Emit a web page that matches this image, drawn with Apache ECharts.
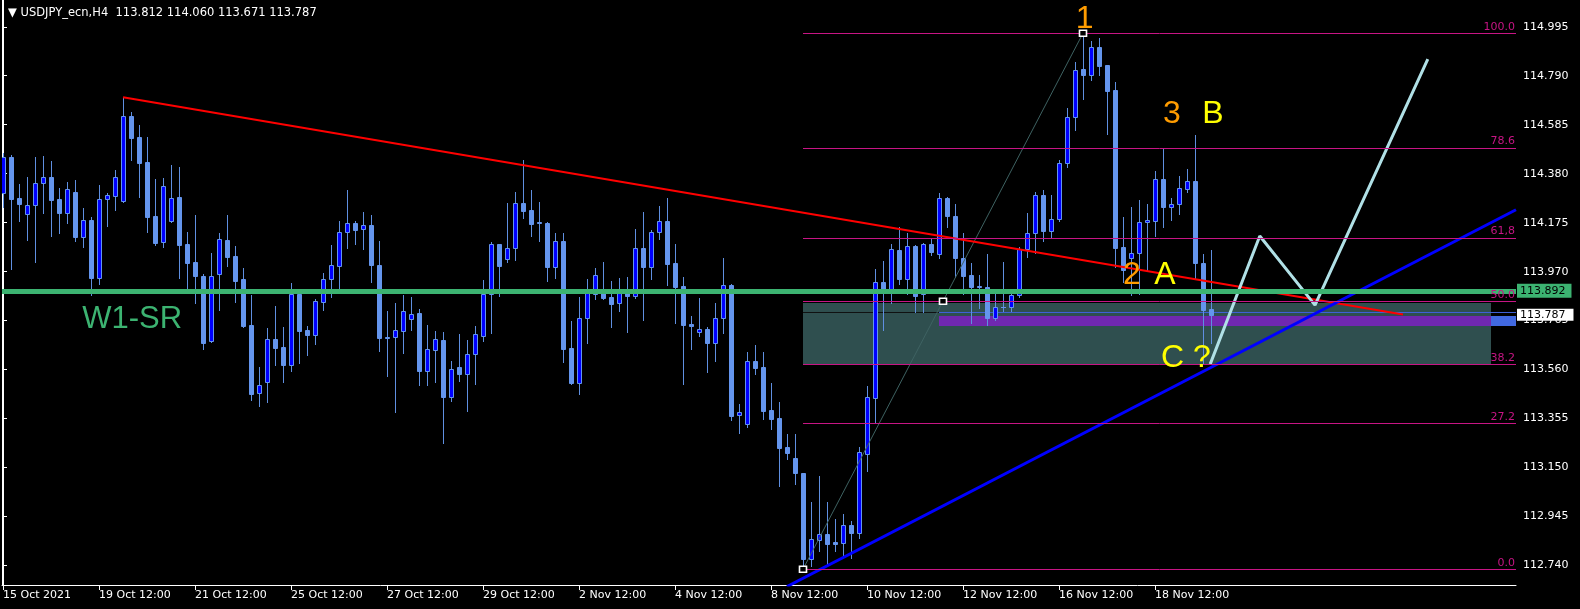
<!DOCTYPE html>
<html><head><meta charset="utf-8">
<script src="https://cdn.jsdelivr.net/npm/echarts@6/dist/echarts.min.js"></script>
<style>html,body{margin:0;padding:0;background:#000;}#c{width:1580px;height:609px;}</style>
</head><body><div id="c"></div>
<script>
// ---- data (USDJPY_ecn, H4) ----
const opens = [114.298,114.451,114.278,114.210,114.248,114.340,114.365,114.274,114.217,114.303,114.116,114.185,113.945,114.273,114.288,114.267,114.620,114.534,114.429,114.203,114.093,114.181,114.281,114.086,114.010,113.953,113.678,113.959,114.102,114.035,113.939,113.747,113.461,113.509,113.687,113.655,113.580,113.876,113.726,113.706,113.844,113.938,113.995,114.137,114.172,114.147,114.165,113.998,113.696,113.698,113.723,113.773,113.797,113.555,113.643,113.684,113.447,113.570,113.543,113.624,113.702,113.875,114.084,114.022,114.068,114.256,114.228,114.176,114.174,113.991,114.098,113.650,113.505,113.775,113.878,113.882,113.864,113.840,113.885,113.869,114.068,113.991,114.135,114.181,114.005,113.910,113.751,113.716,113.730,113.673,113.775,113.913,113.369,113.333,113.595,113.571,113.391,113.357,113.237,113.190,113.127,112.766,112.845,112.871,112.837,112.835,112.908,112.877,113.208,113.442,113.925,113.893,114.061,113.940,114.076,113.875,114.086,114.043,114.277,114.203,114.026,113.956,113.909,113.907,113.777,113.822,113.821,113.871,114.066,114.130,114.290,114.141,114.189,114.426,114.619,114.818,114.794,114.909,114.835,114.730,114.072,114.026,114.047,114.177,114.181,114.357,114.239,114.252,114.317,114.349,114.005,113.812];
const highs = [114.465,114.458,114.337,114.365,114.449,114.454,114.433,114.320,114.344,114.354,114.236,114.200,114.333,114.299,114.395,114.700,114.637,114.584,114.534,114.358,114.362,114.416,114.407,114.136,114.207,113.960,114.048,114.132,114.207,114.077,113.985,113.872,113.570,113.734,113.826,113.738,113.921,113.882,113.742,113.854,113.963,114.080,114.182,114.312,114.182,114.220,114.207,114.098,113.804,113.839,113.872,113.863,113.812,113.745,113.720,113.717,113.596,113.708,113.684,113.742,113.935,114.094,114.084,114.256,114.302,114.437,114.312,114.260,114.178,114.130,114.130,113.763,113.865,113.939,113.985,114.010,113.931,113.943,113.949,114.148,114.220,114.144,114.245,114.278,114.086,113.948,113.784,113.860,113.740,113.839,114.027,113.917,113.416,113.634,113.663,113.634,113.504,113.424,113.290,113.290,113.127,113.006,113.115,113.006,112.933,112.955,112.925,113.236,113.491,113.981,114.015,114.086,114.156,114.130,114.080,114.090,114.107,114.298,114.282,114.253,114.130,114.005,113.956,114.044,113.882,114.010,113.882,114.074,114.217,114.305,114.312,114.290,114.437,114.654,114.848,114.968,114.934,114.948,114.835,114.765,114.200,114.242,114.270,114.253,114.391,114.482,114.279,114.370,114.398,114.542,114.044,114.060];
const lows = [114.242,113.981,114.183,114.104,114.012,114.217,114.120,114.133,114.175,114.100,114.074,113.873,113.918,114.161,114.228,114.261,114.437,114.284,114.137,114.083,114.074,114.179,113.942,113.899,113.840,113.645,113.674,113.811,113.995,113.843,113.738,113.431,113.409,113.426,113.579,113.509,113.555,113.588,113.621,113.668,113.809,113.865,113.900,114.070,114.086,114.065,113.928,113.638,113.533,113.382,113.631,113.726,113.495,113.495,113.508,113.253,113.429,113.513,113.388,113.500,113.680,113.714,113.869,114.012,114.019,114.196,114.120,114.098,113.932,113.945,113.592,113.500,113.459,113.673,113.855,113.855,113.740,113.806,113.717,113.861,113.768,113.940,114.107,113.915,113.756,113.501,113.646,113.702,113.551,113.596,113.714,113.350,113.296,113.321,113.543,113.353,113.313,113.074,113.187,113.082,112.725,112.738,112.802,112.742,112.802,112.784,112.770,112.856,113.137,113.342,113.727,113.840,113.917,113.876,113.802,113.802,114.041,114.028,114.158,113.948,113.878,113.756,113.816,113.748,113.768,113.804,113.806,113.865,114.033,114.047,114.097,114.111,114.181,114.409,114.563,114.693,114.772,114.794,114.546,113.991,113.928,113.872,113.876,113.977,114.120,114.158,114.186,114.211,114.305,113.939,113.586,113.671];
const closes = [114.451,114.275,114.254,114.248,114.340,114.365,114.271,114.217,114.315,114.116,114.185,113.945,114.273,114.290,114.365,114.620,114.531,114.426,114.200,114.090,114.327,114.277,114.083,114.007,113.953,113.673,113.952,114.105,114.033,113.932,113.744,113.459,113.494,113.687,113.652,113.579,113.875,113.723,113.705,113.846,113.938,113.997,114.135,114.172,114.144,114.164,113.998,113.693,113.694,113.724,113.804,113.793,113.555,113.645,113.687,113.447,113.561,113.543,113.624,113.708,113.875,114.084,113.994,114.068,114.256,114.225,114.171,114.174,113.989,114.097,113.646,113.504,113.775,113.879,113.955,113.861,113.836,113.879,113.869,114.068,113.991,114.135,114.181,114.003,113.906,113.748,113.744,113.729,113.673,113.775,113.913,113.367,113.381,113.595,113.568,113.388,113.354,113.233,113.211,113.127,112.766,112.850,112.871,112.831,112.831,112.908,112.877,113.214,113.444,113.925,113.892,114.063,113.940,114.076,113.869,114.084,114.053,114.277,114.204,114.028,113.953,113.907,113.907,113.777,113.822,113.821,113.871,114.066,114.130,114.290,114.141,114.189,114.423,114.619,114.813,114.794,114.909,114.832,114.727,114.070,113.976,114.047,114.177,114.186,114.357,114.239,114.252,114.319,114.349,114.005,113.809,113.787];

const xTickIndex = [0,12,24,36,48,60,72,84,96,108,120,132,144];
const xTickLabels = ['15 Oct 2021','19 Oct 12:00','21 Oct 12:00','25 Oct 12:00','27 Oct 12:00','29 Oct 12:00','2 Nov 12:00','4 Nov 12:00','8 Nov 12:00','10 Nov 12:00','12 Nov 12:00','16 Nov 12:00','18 Nov 12:00'];
const yTickValues = [114.995,114.790,114.585,114.380,114.175,113.970,113.765,113.560,113.355,113.150,112.945,112.740];

const w1sr = 113.892;
const bidPrice = 113.787;
const redTrend = [[15,114.700],[175,113.791]];
const blueTrend = [[98,112.652],[189.125,114.229]];
const fibAnchor = [[100,112.7245],[135,114.968]];
const fibRatios = [0,0.272,0.382,0.5,0.618,0.786,1];
const fibLabels = ['0.0','27.2','38.2','50.0','61,8','78.6','100.0'];
const projection = [[150.9,113.583],[157.1,114.119],[164,113.830],[178.1,114.860]];
const zoneTeal = [[100,113.839,186,113.581]];
const zonePurple = [[117,113.785,186,113.742]];
const zoneBlue = [[186,113.785,189.125,113.742]];
const bidDark = [[100,113.799],[117,113.799]];
const bidBlue = [[117,113.799],[189.125,113.799]];
const anchorPts = [[100,112.7245],[135,114.968],[117.5,113.846]];
const waveOrange = [{name:'1',value:[134.1,115.025]},{name:'3',value:[145,114.628]},{name:'2',value:[140,113.956]}];
const waveYellow = [{name:'B',value:[149.9,114.628]},{name:'A',value:[143.9,113.956]},{name:'C ?',value:[144.75,113.608]}];
const srText = [{name:'W1-SR',value:[9.9,113.768]}];

// ---- chart ----
const X_MIN = -0.125, X_MAX = 189.125, Y_MIN = 112.6584, Y_MAX = 115.107;
const candleData = opens.map((o,i)=>[i,o,highs[i],lows[i],closes[i]]);

function renderCandle(params, api){
  const k=api.value(0), o=api.value(1), h=api.value(2), l=api.value(3), c=api.value(4);
  const po=api.coord([k,o]), pc=api.coord([k,c]), ph=api.coord([k,h]), pl=api.coord([k,l]);
  const x=Math.round(po[0]);
  const top=Math.round(Math.min(po[1],pc[1])), bot=Math.round(Math.max(po[1],pc[1]));
  const bull=c>o;
  const ch=[{type:'line',shape:{x1:x+0.5,y1:Math.round(ph[1]),x2:x+0.5,y2:Math.round(pl[1])+1},style:{stroke:'#5F8FE0',lineWidth:1}}];
  if(bot-top<1){
    ch.push({type:'line',shape:{x1:x-2,y1:top+0.5,x2:x+3,y2:top+0.5},style:{stroke:'#6495ED',lineWidth:1}});
  } else {
    ch.push({type:'rect',shape:{x:x-1.5,y:top+0.5,width:4,height:bot-top},style:{fill:bull?'#0000FF':'#6495ED',stroke:'#6495ED',lineWidth:1}});
  }
  return {type:'group',children:ch};
}
function renderZone(params, api){
  const a=api.coord([api.value(0),api.value(1)]), b=api.coord([api.value(2),api.value(3)]);
  return {type:'rect',shape:{x:Math.round(a[0]),y:Math.round(a[1]),width:Math.round(b[0])-Math.round(a[0]),height:Math.round(b[1])-Math.round(a[1])},style:{fill:api.visual('color')}};
}
const fibLow=fibAnchor[0][1], fibHigh=fibAnchor[1][1];
const fibLines = fibRatios.map((r,i)=>{
  const lv=fibLow+r*(fibHigh-fibLow);
  return [{name:fibLabels[i],coord:[fibAnchor[0][0],lv]},{coord:[X_MAX,lv]}];
});
const font='DejaVu Sans';
const textLabel=(color,size)=>({show:true,formatter:'{b}',position:'right',distance:0,color:color,fontSize:size,fontFamily:'Liberation Sans',opacity:1});
const chart = echarts.init(document.getElementById('c'),null,{renderer:'canvas'});
chart.setOption({
  backgroundColor:'#000',
  animation:false,
  title:{text:'\u25BC USDJPY_ecn,H4  '+opens[151].toFixed(3)+' '+highs[151].toFixed(3)+' '+lows[151].toFixed(3)+' '+closes[151].toFixed(3),
    left:3,top:2,textStyle:{color:'#fff',fontSize:11.5,fontWeight:'normal',fontFamily:font}},
  grid:{left:2,right:64,top:0,bottom:24,show:false},
  xAxis:{type:'value',min:X_MIN,max:X_MAX,
    axisLine:{show:true,lineStyle:{color:'#fff',width:1}},
    axisTick:{show:true,customValues:xTickIndex,length:5,lineStyle:{color:'#fff'}},
    axisLabel:{show:true,customValues:xTickIndex,formatter:v=>xTickLabels[xTickIndex.indexOf(Math.round(v))]||'',color:'#fff',fontSize:11,fontFamily:font,align:'left',margin:5},
    splitLine:{show:false}},
  yAxis:[{type:'value',position:'right',min:Y_MIN,max:Y_MAX,
    axisLine:{show:true,lineStyle:{color:'#fff'}},
    axisTick:{show:true,customValues:yTickValues,length:4,lineStyle:{color:'#fff'}},
    axisLabel:{show:true,customValues:yTickValues,formatter:v=>Number(v).toFixed(3),color:'#fff',fontSize:11,fontFamily:font,margin:7},
    splitLine:{show:false}},
    {type:'value',position:'left',min:Y_MIN,max:Y_MAX,axisLine:{show:true,lineStyle:{color:'#fff'}},axisTick:{show:false},axisLabel:{show:false},splitLine:{show:false}}],
  series:[
    {type:'custom',name:'teal',renderItem:renderZone,data:zoneTeal,itemStyle:{color:'#2F4F4F'},encode:{x:[0,2],y:[1,3]},z:1,silent:true,clip:true},
    {type:'custom',name:'purple',renderItem:renderZone,data:zonePurple,itemStyle:{color:'#7028B0'},encode:{x:[0,2],y:[1,3]},z:1,silent:true,clip:true},
    {type:'custom',name:'blueband',renderItem:renderZone,data:zoneBlue,itemStyle:{color:'#4169E1'},encode:{x:[0,2],y:[1,3]},z:1,silent:true,clip:true},
    {type:'line',data:bidDark,symbol:'none',lineStyle:{color:'#111',width:1},z:1.5,silent:true},
    {type:'line',data:bidBlue,symbol:'none',lineStyle:{color:'#3F62D8',width:1},z:1.5,silent:true},
    {type:'custom',name:'candles',renderItem:renderCandle,data:candleData,encode:{x:0,y:[1,2,3,4]},z:2,silent:true,clip:true},
    {type:'line',name:'fib',data:fibAnchor,symbol:'none',lineStyle:{color:'#3E6262',width:1},z:3,silent:true,
      markLine:{silent:true,symbol:['none','none'],animation:false,lineStyle:{color:'#C71585',width:1,type:'solid'},
        label:{show:true,position:'insideEndTop',formatter:'{b}',color:'#C71585',fontSize:11,fontFamily:font,distance:1},
        emphasis:{disabled:true},data:fibLines}},
    {type:'line',name:'red',data:redTrend,symbol:'none',lineStyle:{color:'#FF0000',width:2},z:4,silent:true,
      markLine:{silent:true,symbol:['none','none'],animation:false,emphasis:{disabled:true},
        data:[
          {yAxis:w1sr,lineStyle:{color:'#3CB371',width:5,type:'solid'},label:{show:true,position:'end',distance:1,formatter:w1sr.toFixed(3),backgroundColor:'#3CB371',color:'#000',fontSize:11,fontFamily:font,padding:[2,6,1,3]}},
          {yAxis:bidPrice,lineStyle:{color:'rgba(0,0,0,0)',width:1},label:{show:true,position:'end',distance:1,formatter:bidPrice.toFixed(3),backgroundColor:'#fff',color:'#000',fontSize:11,fontFamily:font,padding:[1,8,0,3]}}
        ]}},
    {type:'line',name:'blue',data:blueTrend,symbol:'none',lineStyle:{color:'#0000FF',width:3},z:4,silent:true,clip:true},
    {type:'line',name:'proj',data:projection,symbol:'none',lineStyle:{color:'#B0E0E6',width:3},z:4,silent:true},
    {type:'scatter',data:anchorPts,symbol:'rect',symbolSize:[7,6],itemStyle:{color:'#000',borderColor:'#fff',borderWidth:1.5,opacity:1},z:5,silent:true},
    {type:'scatter',data:waveOrange,symbolSize:0,z:6,silent:true,itemStyle:{opacity:1},label:textLabel('#FF9C00',32)},
    {type:'scatter',data:waveYellow,symbolSize:0,z:6,silent:true,itemStyle:{opacity:1},label:textLabel('#FFFF00',32)},
    {type:'scatter',data:srText,symbolSize:0,z:6,silent:true,itemStyle:{opacity:1},label:textLabel('#3CB371',31)}
  ]
});
</script></body></html>
